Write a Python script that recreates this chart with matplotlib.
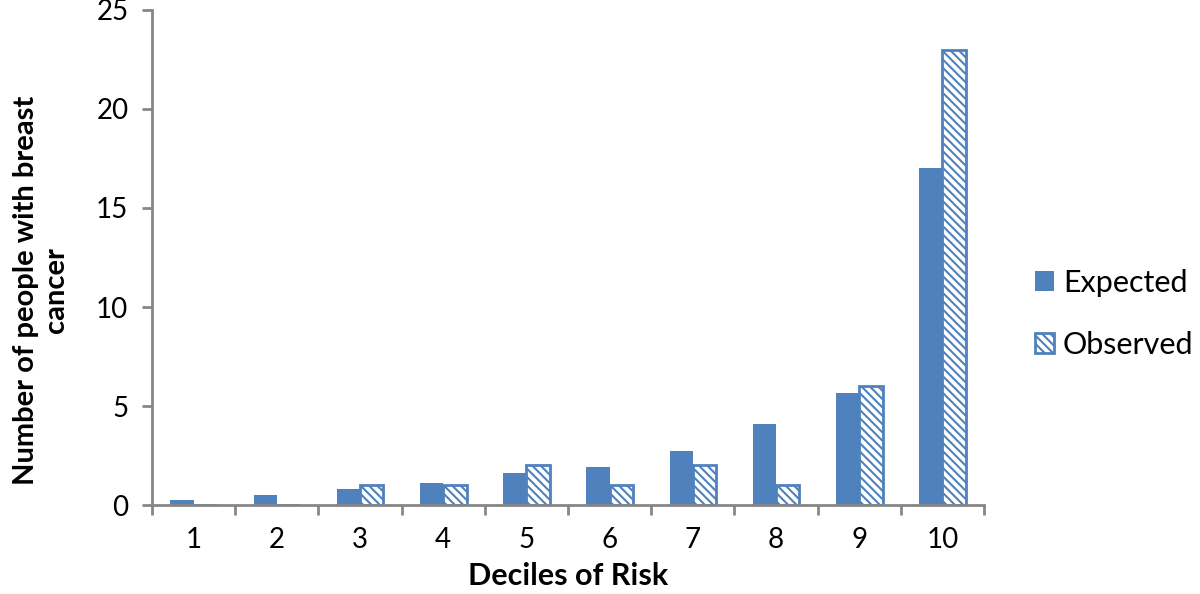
import numpy as np
import matplotlib.pyplot as plt

plt.rcParams['font.family'] = ['Lato', 'DejaVu Sans']
plt.rcParams['hatch.color'] = '#4F81BD'
plt.rcParams['hatch.linewidth'] = 1.5

deciles = ['1', '2', '3', '4', '5', '6', '7', '8', '9', '10']
expected = [0.25, 0.5, 0.8, 1.1, 1.6, 1.9, 2.75, 4.1, 5.65, 17.0]
observed = [0, 0, 1, 1, 2, 1, 2, 1, 6, 23]

blue = '#4F81BD'
grey = '#868686'

fig = plt.figure(figsize=(12, 5.94), dpi=100)
ax = fig.add_axes([0.1267, 0.1498, 0.6933, 0.8334])

x = np.arange(len(deciles))
w = 0.28
ax.bar(x - w / 2, expected, w, color=blue, label='Expected')
ax.bar(x + w / 2, observed, w, color='white', edgecolor=blue, linewidth=2,
       hatch='\\\\\\\\', label='Observed')

ax.set_xlim(-0.5, len(deciles) - 0.5)
ax.set_ylim(0, 25)
ax.set_yticks([0, 5, 10, 15, 20, 25])
ax.set_xticks(x)
ax.set_xticklabels(deciles)
ax.set_xticks(np.arange(-0.5, len(deciles)), minor=True)
ax.tick_params(axis='x', which='major', length=0, pad=16, labelsize=20)
ax.tick_params(axis='x', which='minor', length=7, width=2, color=grey)
ax.tick_params(axis='y', length=7, width=2, color=grey, labelsize=20, pad=10)

for s in ['top', 'right']:
    ax.spines[s].set_visible(False)
for s in ['left', 'bottom']:
    ax.spines[s].set_color(grey)
    ax.spines[s].set_linewidth(2)

ax.set_xlabel('Deciles of Risk', fontsize=22, fontweight='bold', labelpad=6)
ax.set_ylabel('Number of people with breast\ncancer', fontsize=21,
              fontweight='bold')
ax.yaxis.set_label_coords(-0.1, 0.434)

ax.legend(loc='center left', bbox_to_anchor=(1035 / 1200, 1 - 314 / 594),
          bbox_transform=fig.transFigure, frameon=False, borderpad=0,
          borderaxespad=0, fontsize=22, handlelength=0.62, handleheight=0.62,
          labelspacing=1.12, handletextpad=0.3)

fig.savefig('out.png', dpi=100)
